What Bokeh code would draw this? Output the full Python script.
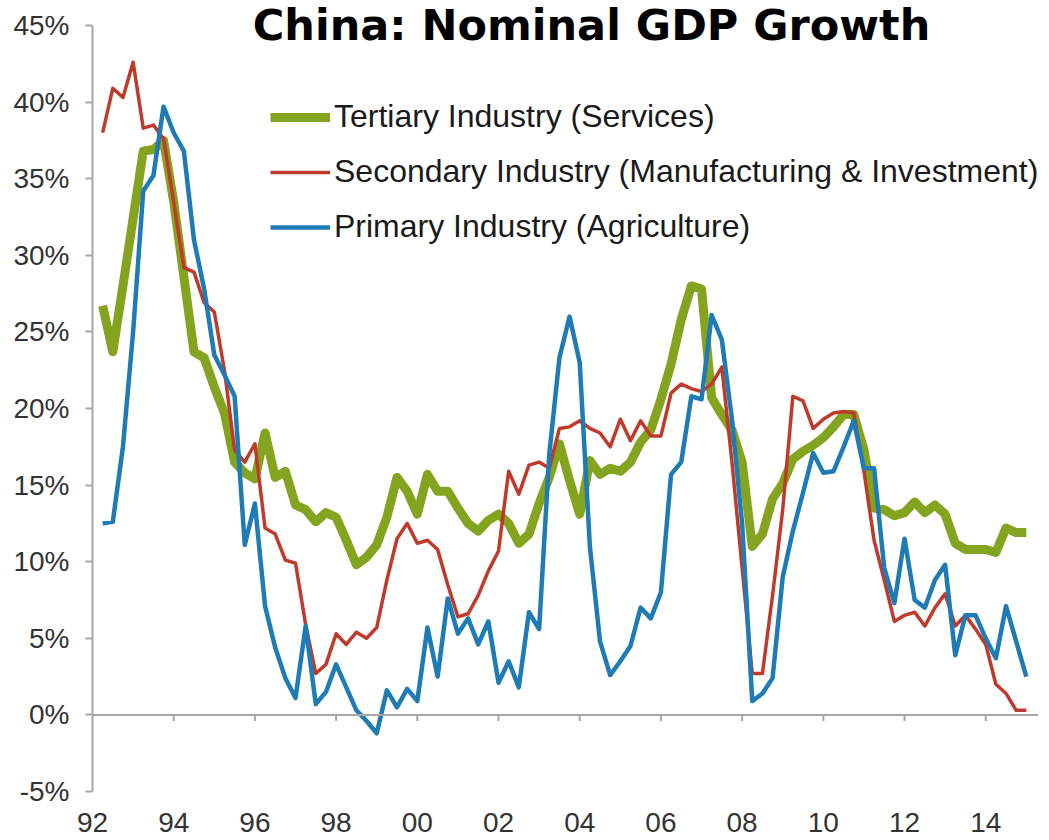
import pandas as pd
from bokeh.plotting import figure
from bokeh.models import Range1d, FixedTicker, Span, Label, Legend, LegendItem
from bokeh.embed import file_html
from bokeh.resources import INLINE

# ---------------- data (quarterly, % y/y nominal) ----------------
quarters = pd.period_range("1992Q2", "2015Q1", freq="Q")
x = [q.year + (q.quarter - 1) / 4 for q in quarters]

tertiary = [26.7, 23.7, 28.0, 32.4, 36.8, 36.9, 37.5, 33.5, 28.6, 23.7,
            23.3, 21.4, 19.7, 16.5, 15.8, 15.4, 18.4, 15.5, 15.9, 13.7,
            13.4, 12.6, 13.2, 12.9, 11.4, 9.8, 10.3, 11.1, 12.9, 15.5,
            14.6, 13.1, 15.7, 14.6, 14.6, 13.5, 12.5, 12.0, 12.7, 13.1,
            12.5, 11.2, 11.8, 13.8, 15.5, 17.7, 15.3, 13.1, 16.6, 15.7,
            16.1, 15.9, 16.5, 17.8, 18.6, 20.6, 22.9, 25.8, 28.0, 27.8,
            20.7, 19.6, 18.6, 16.5, 11.0, 11.8, 14.1, 15.1, 16.7, 17.2,
            17.6, 18.1, 18.8, 19.6, 19.6, 17.3, 13.5, 13.4, 13.0, 13.2,
            13.9, 13.2, 13.7, 13.1, 11.2, 10.8, 10.8, 10.8, 10.6, 12.2,
            11.9, 11.9]

secondary = [38.0, 40.9, 40.3, 42.6, 38.3, 38.5, 37.6, 33.5, 29.2, 28.9,
             26.9, 26.3, 22.5, 17.3, 16.5, 17.7, 12.2, 11.8, 10.1, 9.9,
             5.9, 2.7, 3.3, 5.3, 4.6, 5.4, 5.0, 5.7, 8.8, 11.5,
             12.5, 11.2, 11.4, 10.8, 8.5, 6.4, 6.6, 7.8, 9.4, 10.7,
             15.9, 14.4, 16.3, 16.5, 16.1, 18.7, 18.8, 19.2, 18.7, 18.4,
             17.5, 19.3, 17.9, 19.2, 18.2, 18.2, 21.0, 21.6, 21.3, 21.1,
             21.6, 22.7, 16.5, 9.6, 2.7, 2.7, 7.8, 13.4, 20.8, 20.5,
             18.7, 19.3, 19.7, 19.8, 19.7, 15.9, 11.4, 8.8, 6.1, 6.5,
             6.7, 5.8, 7.0, 7.9, 5.8, 6.5, 5.6, 4.6, 2.0, 1.4,
             0.3, 0.3]

primary = [12.5, 12.6, 17.5, 25.0, 34.2, 35.2, 39.7, 38.0, 36.8, 31.0,
           27.8, 23.5, 22.2, 20.8, 11.1, 13.8, 7.1, 4.4, 2.4, 1.1,
           5.8, 0.7, 1.5, 3.3, 1.8, 0.3, -0.4, -1.2, 1.6, 0.5,
           1.7, 0.9, 5.7, 2.5, 7.6, 5.3, 6.3, 4.6, 6.1, 2.1,
           3.5, 1.8, 6.7, 5.6, 17.0, 23.3, 26.0, 23.0, 11.0, 4.8,
           2.6, 3.5, 4.5, 7.0, 6.3, 8.0, 15.7, 16.5, 20.8, 20.6,
           26.1, 24.5, 19.3, 12.5, 0.9, 1.4, 2.4, 9.0, 12.0, 14.5,
           17.1, 15.8, 15.9, 17.5, 19.2, 16.1, 16.1, 9.6, 7.3, 11.5,
           7.5, 7.0, 8.8, 9.8, 3.9, 6.5, 6.5, 5.0, 3.7, 7.1,
           4.8, 2.5]

series_names = ["Tertiary Industry (Services)",
                "Secondary Industry (Manufacturing & Investment)",
                "Primary Industry (Agriculture)"]
title_text = "China: Nominal GDP Growth"

x_ticks = [1992, 1994, 1996, 1998, 2000, 2002, 2004, 2006, 2008, 2010, 2012, 2014]
x_tick_labels = ["92", "94", "96", "98", "00", "02", "04", "06", "08", "10", "12", "14"]
y_ticks = [-5, 0, 5, 10, 15, 20, 25, 30, 35, 40, 45]
y_tick_labels = ["-5%", "0%", "5%", "10%", "15%", "20%", "25%", "30%", "35%", "40%", "45%"]

# ---------------- style ----------------
GREEN = "#84A31F"
RED = "#BF3A2B"
BLUE = "#1F7BB5"
AXIS_GRAY = "#A6A6A6"
TEXT_GRAY = "#333333"
FONT = "Liberation Sans"

# frame: 15.32 px per percentage point, 40.6 px per year
p = figure(width=1041, height=840, output_backend="svg", toolbar_location=None,
           x_range=Range1d(1992, 2015.30), y_range=Range1d(-5, 46.63),
           min_border_left=92, min_border_right=3, min_border_top=0,
           min_border_bottom=49)
p.outline_line_color = None
p.grid.visible = False
p.background_fill_color = "white"
p.border_fill_color = "white"

yax = p.yaxis[0]
yax.ticker = FixedTicker(ticks=y_ticks)
yax.major_label_overrides = dict(zip(y_ticks, y_tick_labels))
yax.bounds = (y_ticks[0], y_ticks[-1])
yax.axis_line_color = AXIS_GRAY
yax.axis_line_width = 2
yax.major_tick_line_color = AXIS_GRAY
yax.major_tick_line_width = 2
yax.major_tick_in = 0
yax.major_tick_out = 7
yax.minor_tick_line_color = None
yax.major_label_standoff = 16
yax.major_label_text_font = FONT
yax.major_label_text_font_size = "28px"
yax.major_label_text_color = TEXT_GRAY

xax = p.xaxis[0]
xax.ticker = FixedTicker(ticks=x_ticks)
xax.major_label_overrides = dict(zip(x_ticks, x_tick_labels))
xax.axis_line_color = None
xax.major_tick_line_color = None
xax.minor_tick_line_color = None
xax.major_tick_in = 0
xax.major_tick_out = 0
xax.major_label_standoff = 21
xax.major_label_text_font = FONT
xax.major_label_text_font_size = "28px"
xax.major_label_text_color = TEXT_GRAY

# zero line acting as the category axis, with its tick marks
p.add_layout(Span(location=0, dimension="width", line_color=AXIS_GRAY, line_width=2))
p.segment(x0=x_ticks[1:], y0=0, x1=x_ticks[1:], y1=-0.4,
          line_color=AXIS_GRAY, line_width=2)

r_t = p.line(x, tertiary, line_color=GREEN, line_width=9, line_join="round")
r_s = p.line(x, secondary, line_color=RED, line_width=3.5, line_join="round")
r_p = p.line(x, primary, line_color=BLUE, line_width=4.5, line_join="round")

legend = Legend(items=[LegendItem(label=series_names[0], renderers=[r_t]),
                       LegendItem(label=series_names[1], renderers=[r_s]),
                       LegendItem(label=series_names[2], renderers=[r_p])],
                location=(178, 546))
legend.glyph_width = 60
legend.glyph_height = 36
legend.label_height = 36
legend.spacing = 18
legend.padding = 0
legend.margin = 0
legend.label_standoff = 4
legend.border_line_color = None
legend.background_fill_alpha = 0
legend.label_text_font = FONT
legend.label_text_font_size = "32px"
legend.label_text_color = "#1a1a1a"
p.add_layout(legend, "center")

p.add_layout(Label(x=2004.29, y=45.02, text=title_text, text_font="DejaVu Sans",
                   text_font_size="43px", text_font_style="bold",
                   text_align="center", text_baseline="alphabetic",
                   text_color="black"))

open("out.html", "w").write(file_html(p, INLINE))
